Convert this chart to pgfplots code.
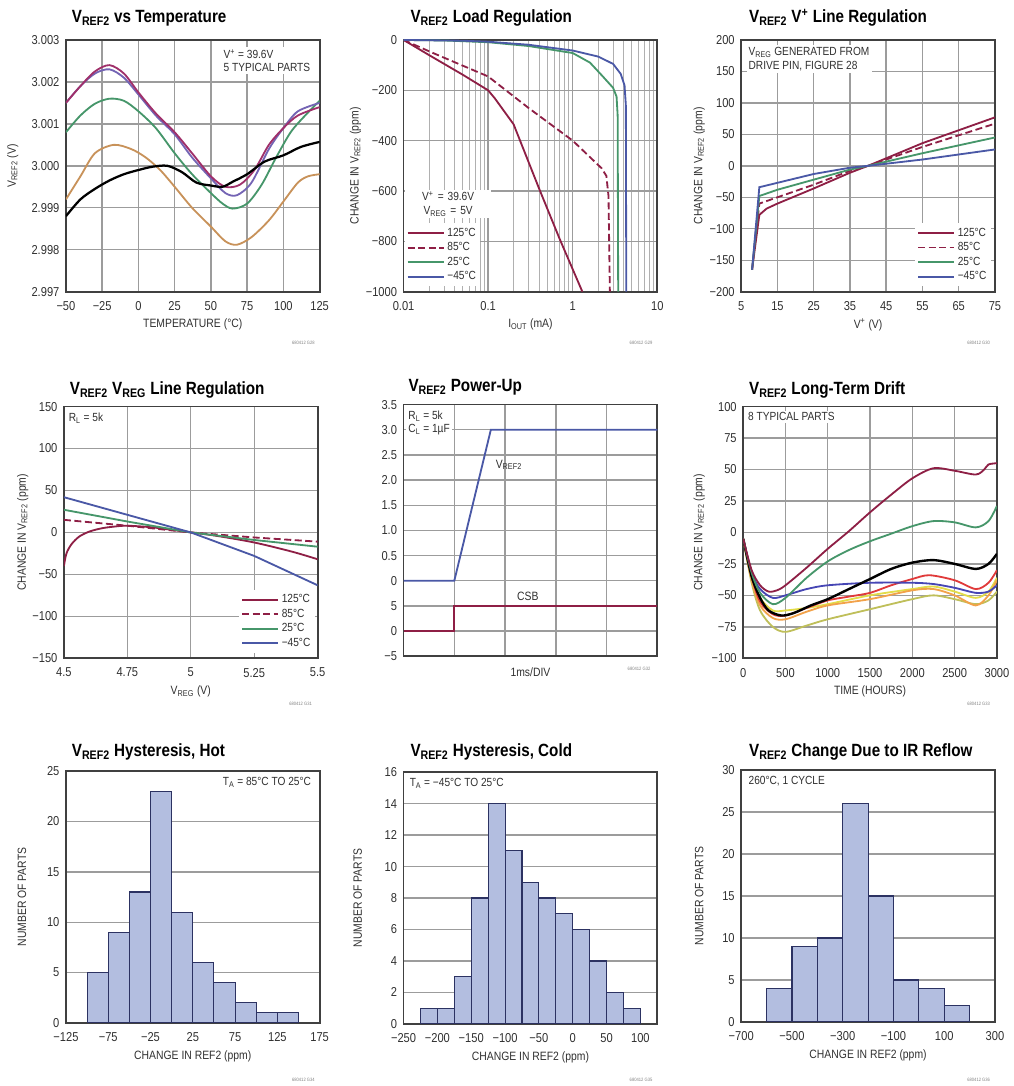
\documentclass[border=0pt]{standalone}
\usepackage{fontspec}
\setmainfont{Liberation Sans}[FakeStretch=0.86]
\usepackage{pgfplots}
\pgfplotsset{compat=1.18}

\definecolor{gridc}{HTML}{9C9C9C}
\definecolor{framec}{HTML}{404040}
\definecolor{txtc}{HTML}{303030}
\definecolor{cHot}{HTML}{8E1F45}
\definecolor{cGrn}{HTML}{46966A}
\definecolor{cBlu}{HTML}{4A58A6}
\definecolor{cMag}{HTML}{A0306A}
\definecolor{cVio}{HTML}{7464B4}
\definecolor{cOra}{HTML}{C8925A}
\definecolor{cRed}{HTML}{E03A3A}
\definecolor{cOrg}{HTML}{F2A24A}
\definecolor{cYel}{HTML}{E2DC48}
\definecolor{cOli}{HTML}{BFBF5A}
\definecolor{cBlv}{HTML}{4646B4}
\definecolor{barfill}{HTML}{B3BEE0}
\definecolor{bardraw}{HTML}{2C3262}

\newcommand{\sub}[1]{\textsubscript{#1}}
\newcommand{\sups}[1]{\textsuperscript{#1}}
\newcommand{\ticksize}{\fontsize{9.2}{10}\selectfont}
\newcommand{\labsize}{\fontsize{8.6}{10}\selectfont}
\newcommand{\legsize}{\fontsize{8.4}{9.6}\selectfont}
\newcommand{\titsize}{\fontsize{12.6}{14}\selectfont\bfseries}
\newcommand{\wmsize}{\fontsize{3.4}{4}\selectfont}

\tikzset{ann/.style={fill=white, font=\legsize, text=txtc, inner sep=1.5pt, align=left}}

\pgfplotsset{
  lt/.style={
    scale only axis, width=6.35cm, height=6.3cm, anchor=north west,
    axis line style={draw=framec, line width=1.3pt},
    grid=major, grid style={draw=gridc, line width=1pt},
    major tick length=0pt, minor tick length=0pt,
    tick label style={font=\ticksize, text=txtc},
    xticklabel style={yshift=-0.12cm},
    yticklabel style={xshift=-0.04cm},
    label style={font=\labsize, text=txtc},
    xlabel style={at={([yshift=-0.83cm]axis description cs:0.5,0)}, anchor=center},
    legend style={draw=none, fill=white, font=\legsize, text=txtc,
      inner sep=1.2pt, row sep=-1pt, cells={anchor=west}},
    legend image code/.code={\draw[##1] (0cm,0cm) -- (0.9cm,0cm);},
    every axis plot/.append style={line width=1.3pt},
    /pgf/number format/assume math mode=true,
  },
  yl/.style={ylabel style={at={([xshift=#1]axis description cs:0,0.5)}, anchor=center}},
  hist/.style={xmajorgrids=false, ylabel={NUMBER OF PARTS}, xlabel={CHANGE IN REF2 (ppm)}},
  bars/.style={ybar interval, fill=barfill, draw=bardraw, line width=0.8pt},
}

\begin{document}
\begin{tikzpicture}
\path (0,0) rectangle (25.225,-27.15);

% ---------- titles ----------
\node[anchor=base west, font=\titsize] at (1.675,-0.575) {V\sub{REF2} vs Temperature};
\node[anchor=base west, font=\titsize] at (10.15,-0.575) {V\sub{REF2} Load Regulation};
\node[anchor=base west, font=\titsize] at (18.625,-0.575) {V\sub{REF2} V\sups{+} Line Regulation};
\node[anchor=base west, font=\titsize] at (1.625,-9.875) {V\sub{REF2} V\sub{REG} Line Regulation};
\node[anchor=base west, font=\titsize] at (10.1,-9.8) {V\sub{REF2} Power-Up};
\node[anchor=base west, font=\titsize] at (18.625,-9.875) {V\sub{REF2} Long-Term Drift};
\node[anchor=base west, font=\titsize] at (1.675,-18.925) {V\sub{REF2} Hysteresis, Hot};
\node[anchor=base west, font=\titsize] at (10.15,-18.925) {V\sub{REF2} Hysteresis, Cold};
\node[anchor=base west, font=\titsize] at (18.625,-18.925) {V\sub{REF2} Change Due to IR Reflow};

% ---------- 1: vs temperature ----------
\begin{axis}[lt, at={(1.65cm,-1.00cm)},
  xmin=-50, xmax=125, ymin=2.997, ymax=3.003,
  xtick={-50,-25,...,125}, xticklabels={−50,−25,0,25,50,75,100,125},
  ytick={2.997,2.998,2.999,3.000,3.001,3.002,3.003},
  yticklabels={2.997,2.998,2.999,3.000,3.001,3.002,3.003},
  xlabel={TEMPERATURE (°C)}, ylabel={V\sub{REF2} (V)}, yl=-1.33cm]
\addplot[cOra, smooth] coordinates {(-50,2.9992)(-40,2.99975)(-30,3.0003)(-17,3.0005)(-5,3.0004)(5,3.0002)(15,2.9999)(25,2.9995)(37,2.9990)(50,2.99855)(60,2.9982)(68,2.99812)(78,2.9983)(90,2.9987)(100,2.99915)(110,2.9996)(117,2.99975)(125,2.9998)};
\addplot[cGrn, smooth] coordinates {(-50,3.0008)(-40,3.0012)(-30,3.00148)(-20,3.0016)(-10,3.00155)(0,3.0013)(12,3.0009)(25,3.0003)(37,2.9998)(50,2.99935)(58,2.9991)(65,2.99898)(75,2.9991)(85,2.99955)(95,3.0002)(105,3.0008)(115,3.0012)(125,3.00155)};
\addplot[cVio, smooth] coordinates {(-50,3.0015)(-40,3.0019)(-30,3.0022)(-20,3.0023)(-10,3.0021)(0,3.0017)(12,3.0012)(25,3.00075)(37,3.0002)(50,2.9997)(60,2.99935)(68,2.9993)(78,2.9996)(90,3.0004)(100,3.0009)(110,3.0013)(125,3.0015)};
\addplot[cMag, smooth] coordinates {(-50,3.0015)(-40,3.0019)(-30,3.00225)(-20,3.0024)(-10,3.0022)(0,3.00175)(12,3.00125)(25,3.0008)(37,3.0003)(50,2.99975)(60,2.9995)(70,2.99955)(80,2.9999)(90,3.0005)(100,3.0009)(110,3.0012)(125,3.0014)};
\addplot[black, smooth, line width=1.6pt] coordinates {(-50,2.9988)(-40,2.9992)(-30,2.99945)(-20,2.99965)(-10,2.9998)(0,2.9999)(10,2.99998)(20,3.0)(30,2.99985)(40,2.9996)(50,2.99953)(58,2.9995)(65,2.99962)(75,2.9998)(87,3.0001)(100,3.00025)(112,3.00045)(125,3.00057)};
\node[ann, anchor=north east] at (axis description cs:0.972,0.972) {V\sups{+} = 39.6V\\5 TYPICAL PARTS};
\end{axis}

% ---------- 2: load regulation ----------
\begin{axis}[lt, at={(10.10cm,-1.00cm)},
  xmode=log, xmin=0.01, xmax=10, ymin=-1000, ymax=0,
  xtick={0.01,0.1,1,10}, xticklabels={0.01,0.1,1,10},
  ytick={-1000,-800,-600,-400,-200,0}, yticklabels={−1000,−800,−600,−400,−200,0},
  grid=both, minor grid style={draw=gridc!80, line width=0.5pt},
  xlabel={I\sub{OUT} (mA)}, ylabel={CHANGE IN V\sub{REF2} (ppm)}, yl=-1.2cm,
  legend style={at={(axis description cs:0.005,0.02)}, anchor=south west}]
\addplot[cHot] coordinates {(0.01,0)(0.02,-60)(0.05,-138)(0.1,-200)(0.12,-232)(0.2,-335)(0.4,-590)(0.7,-790)(1.3,-1000)};
\addplot[cHot, dash pattern=on 5pt off 2.5pt] coordinates {(0.01,0)(0.02,-45)(0.05,-102)(0.1,-145)(0.3,-270)(1,-400)(2.2,-510)(2.5,-540)(2.65,-620)(2.75,-1000)};
\addplot[cGrn] coordinates {(0.01,0)(0.03,-2)(0.1,-9)(0.3,-24)(1,-52)(1.6,-90)(2.2,-140)(3,-190)(3.3,-225)(3.4,-300)(3.45,-1000)};
\addplot[cBlu] coordinates {(0.01,0)(0.05,-3)(0.1,-7)(0.3,-19)(1,-42)(2,-66)(3,-95)(3.7,-135)(4.1,-180)(4.25,-260)(4.3,-1000)};
\legend{125°C, 85°C, 25°C, −45°C}
\node[ann, anchor=south west, align=center, text width=2.05cm] at (axis description cs:0.005,0.29) {V\sups{+} = 39.6V\\V\sub{REG} = 5V};
\end{axis}

% ---------- 3: V+ line regulation ----------
\begin{axis}[lt, at={(18.55cm,-1.00cm)},
  xmin=5, xmax=75, ymin=-200, ymax=200,
  xtick={5,15,...,75}, xticklabels={5,15,25,35,45,55,65,75},
  ytick={-200,-150,...,200}, yticklabels={−200,−150,−100,−50,0,50,100,150,200},
  xlabel={V\sups{+} (V)}, ylabel={CHANGE IN V\sub{REF2} (ppm)}, yl=-1.05cm,
  legend style={at={(axis description cs:0.985,0.02)}, anchor=south east}]
\addplot[cHot] coordinates {(8,-165)(10,-78)(12,-68)(15,-60)(25,-36)(35,-11)(40,0)(55,36)(75,77)};
\addplot[cHot, dash pattern=on 5pt off 2.5pt] coordinates {(8,-165)(10,-60)(15,-50)(25,-30)(35,-8)(40,0)(55,30)(75,67)};
\addplot[cGrn] coordinates {(8,-165)(10,-48)(15,-38)(25,-22)(35,-6)(40,0)(55,20)(75,45)};
\addplot[cBlu] coordinates {(8,-165)(10,-34)(15,-27)(25,-13)(35,-3)(40,0)(55,10)(75,26)};
\legend{125°C, 85°C, 25°C, −45°C}
\node[ann, anchor=north west] at (axis description cs:0.02,0.98) {V\sub{REG} GENERATED FROM\\DRIVE PIN, FIGURE 28};
\end{axis}

% ---------- 4: VREG line regulation ----------
\begin{axis}[lt, at={(1.60cm,-10.175cm)},
  xmin=4.5, xmax=5.5, ymin=-150, ymax=150,
  xtick={4.5,4.75,5,5.25,5.5}, xticklabels={4.5,4.75,5,5.25,5.5},
  ytick={-150,-100,...,150}, yticklabels={−150,−100,−50,0,50,100,150},
  xlabel={V\sub{REG} (V)}, ylabel={CHANGE IN V\sub{REF2} (ppm)}, yl=-1.03cm,
  legend style={at={(axis description cs:0.99,0.02)}, anchor=south east}]
\addplot[cHot, smooth] coordinates {(4.5,-40)(4.51,-25)(4.53,-14)(4.56,-5)(4.6,1)(4.65,5)(4.7,7)(4.75,8)(4.85,6)(4.95,2)(5,0)(5.1,-4)(5.25,-12)(5.4,-23)(5.5,-32)};
\addplot[cHot, dash pattern=on 5pt off 2.5pt] coordinates {(4.5,15)(4.75,8)(5,0)(5.25,-6)(5.5,-11)};
\addplot[cGrn] coordinates {(4.5,27)(4.75,13)(5,0)(5.25,-9)(5.5,-17)};
\addplot[cBlu] coordinates {(4.5,42)(4.75,21)(5,0)(5.25,-28)(5.5,-63)};
\legend{125°C, 85°C, 25°C, −45°C}
\node[ann, anchor=north west] at (axis description cs:0.01,0.985) {R\sub{L} = 5k};
\end{axis}

% ---------- 5: power-up ----------
\begin{axis}[lt, at={(10.10cm,-10.125cm)},
  xmin=0, xmax=5, ymin=0, ymax=10,
  xtick={0,1,...,5}, xticklabels={},
  ytick={0,1,...,10}, yticklabels={−5,0,5,0,0.5,1.0,1.5,2.0,2.5,3.0,3.5},
  xlabel={1ms/DIV}, xlabel style={at={([yshift=-0.4cm]axis description cs:0.5,0)}}]
\addplot[cBlu] coordinates {(0,3)(1,3)(1.72,9)(5,9)};
\addplot[cHot] coordinates {(0,1)(1,1)(1,2)(5,2)};
\node[font=\labsize, text=txtc, anchor=west] at (axis cs:1.72,7.6) {V\sub{REF2}};
\node[font=\labsize, text=txtc] at (axis cs:2.45,2.38) {CSB};
\node[ann, anchor=north west] at (axis description cs:0.01,0.985) {R\sub{L} = 5k\\C\sub{L} = 1µF};
\node[font=\labsize, text=txtc, rotate=90] at ([xshift=-1.12cm]axis description cs:0,0.69) {V\sub{REF2} (V)};
\node[font=\labsize, text=txtc, rotate=90] at ([xshift=-1.12cm]axis description cs:0,0.1) {CSB};
\end{axis}

% ---------- 6: long-term drift ----------
\begin{axis}[lt, at={(18.60cm,-10.175cm)},
  xmin=0, xmax=3000, ymin=-100, ymax=100,
  xtick={0,500,...,3000}, xticklabels={0,500,1000,1500,2000,2500,3000},
  ytick={-100,-75,...,100}, yticklabels={−100,−75,−50,−25,0,25,50,75,100},
  xlabel={TIME (HOURS)}, ylabel={CHANGE IN V\sub{REF2} (ppm)}, yl=-1.1cm]
\addplot[cOli, smooth] coordinates {(0,-5)(100,-40)(200,-62)(350,-75)(500,-79)(750,-74)(1000,-69)(1500,-61)(2000,-53)(2250,-50)(2500,-53)(2750,-57)(2900,-54)(3000,-47)};
\addplot[cYel, smooth] coordinates {(0,-5)(100,-35)(200,-52)(350,-62)(500,-62)(750,-60)(1000,-57)(1500,-50)(2000,-45)(2250,-43)(2500,-47)(2750,-52)(2900,-47)(3000,-36)};
\addplot[cOrg, smooth] coordinates {(0,-5)(100,-38)(200,-58)(350,-68)(500,-69)(750,-63)(1000,-58)(1500,-53)(2000,-46)(2250,-45)(2500,-50)(2750,-58)(2900,-50)(3000,-38)};
\addplot[cRed, smooth] coordinates {(0,-5)(100,-35)(200,-55)(350,-65)(500,-66)(750,-60)(1000,-54)(1250,-51)(1500,-48)(1750,-42)(2000,-37)(2200,-34)(2500,-38)(2750,-45)(2900,-40)(3000,-30)};
\addplot[cBlv, smooth] coordinates {(0,-5)(100,-32)(200,-45)(350,-52)(500,-50)(750,-45)(1000,-42)(1500,-40)(2000,-40)(2250,-41)(2500,-44)(2750,-48)(2900,-47)(3000,-42)};
\addplot[black, smooth, line width=1.7pt] coordinates {(0,-5)(100,-35)(200,-52)(300,-62)(450,-66)(600,-64)(800,-58)(1000,-53)(1250,-45)(1500,-37)(1750,-29)(2000,-24)(2250,-22)(2500,-25)(2750,-29)(2900,-25)(3000,-17)};
\addplot[cGrn, smooth] coordinates {(0,-5)(100,-32)(200,-48)(350,-57)(500,-52)(750,-36)(1000,-23)(1250,-14)(1500,-7)(1750,-1)(2000,5)(2250,9)(2500,8)(2750,4)(2900,9)(3000,21)};
\addplot[cHot, smooth] coordinates {(0,-5)(100,-30)(200,-42)(300,-47)(400,-46)(500,-42)(750,-28)(1000,-13)(1250,1)(1500,16)(1750,30)(2000,43)(2250,51)(2500,49)(2750,46)(2850,50)(2900,54)(3000,55)};
\node[ann, anchor=north west] at (axis description cs:0.01,0.985) {8 TYPICAL PARTS};
\end{axis}

% ---------- 7: hysteresis hot ----------
\begin{axis}[lt, hist, at={(1.65cm,-19.30cm)},
  xmin=-125, xmax=175, ymin=0, ymax=25,
  xtick={-125,-75,...,175}, xticklabels={−125,−75,−25,25,75,125,175},
  ytick={0,5,...,25}, yticklabels={0,5,10,15,20,25}, yl=-1.1cm]
\addplot[bars] coordinates {(-100,5)(-75,9)(-50,13)(-25,23)(0,11)(25,6)(50,4)(75,2)(100,1)(125,1)(150,0)};
\node[ann, anchor=north east] at (axis description cs:0.975,0.985) {T\sub{A} = 85°C TO 25°C};
\end{axis}

% ---------- 8: hysteresis cold ----------
\begin{axis}[lt, hist, at={(10.10cm,-19.325cm)},
  xmin=-250, xmax=125, ymin=0, ymax=16,
  xtick={-250,-200,...,100}, xticklabels={−250,−200,−150,−100,−50,0,50,100},
  ytick={0,2,...,16}, yticklabels={0,2,4,6,8,10,12,14,16}, yl=-1.15cm]
\addplot[bars] coordinates {(-225,1)(-200,1)(-175,3)(-150,8)(-125,14)(-100,11)(-75,9)(-50,8)(-25,7)(0,6)(25,4)(50,2)(75,1)(100,0)};
\node[ann, anchor=north west] at (axis description cs:0.015,0.985) {T\sub{A} = −45°C TO 25°C};
\end{axis}

% ---------- 9: IR reflow ----------
\begin{axis}[lt, hist, at={(18.55cm,-19.275cm)},
  xmin=-700, xmax=300, ymin=0, ymax=30,
  xtick={-700,-500,...,300}, xticklabels={−700,−500,−300,−100,100,300},
  ytick={0,5,...,30}, yticklabels={0,5,10,15,20,25,30}, yl=-1.05cm]
\addplot[bars] coordinates {(-600,4)(-500,9)(-400,10)(-300,26)(-200,15)(-100,5)(0,4)(100,2)(200,0)};
\node[ann, anchor=north west] at (axis description cs:0.02,0.985) {260°C, 1 CYCLE};
\end{axis}

% ---------- figure codes ----------
\node[font=\wmsize, text=gray, anchor=east] at (8.0,-8.58) {680412 G28};
\node[font=\wmsize, text=gray, anchor=east] at (16.45,-8.58) {680412 G29};
\node[font=\wmsize, text=gray, anchor=east] at (24.9,-8.58) {680412 G30};
\node[font=\wmsize, text=gray, anchor=east] at (7.93,-17.62) {680412 G31};
\node[font=\wmsize, text=gray, anchor=east] at (16.4,-16.73) {680412 G32};
\node[font=\wmsize, text=gray, anchor=east] at (24.9,-17.62) {680412 G33};
\node[font=\wmsize, text=gray, anchor=east] at (8.0,-27.02) {680412 G34};
\node[font=\wmsize, text=gray, anchor=east] at (16.45,-27.02) {680412 G35};
\node[font=\wmsize, text=gray, anchor=east] at (24.9,-27.02) {680412 G36};
\end{tikzpicture}
\end{document}
